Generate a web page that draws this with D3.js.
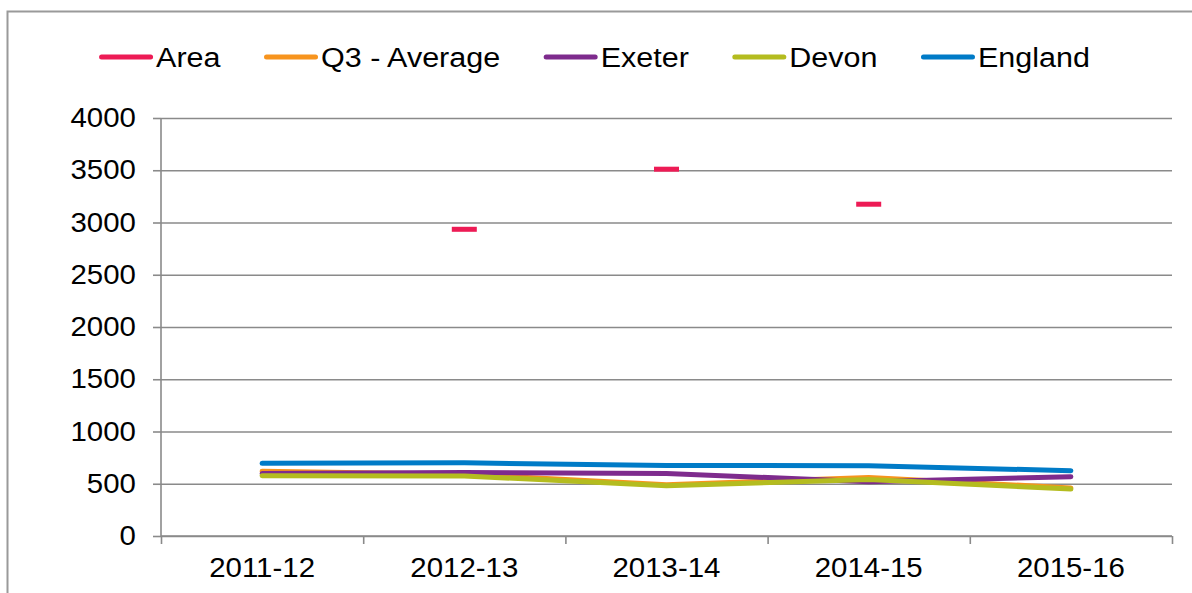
<!DOCTYPE html>
<html>
<head>
<meta charset="utf-8">
<script src="https://cdn.jsdelivr.net/npm/d3@7"></script>
<style>
  html, body { margin: 0; padding: 0; background: #fff; }
  svg { display: block; font-family: "Liberation Sans", Arial, sans-serif; }
</style>
</head>
<body>
<svg id="chart" width="1192" height="593"></svg>
<script>
// ---- data ----
const categories = ["2011-12", "2012-13", "2013-14", "2014-15", "2015-16"];
const seriesNames = ["Area", "Q3 - Average", "Exeter", "Devon", "England"];
const seriesColors = ["#ED1B55", "#F7941E", "#7E2B8D", "#B4BC1F", "#007BC7"];
const areaValues    = [null, 2935, 3510, 3175, null];
const q3Values      = [620, 590, 490, 560, 460];
const exeterValues  = [598, 608, 599, 520, 567];
const devonValues   = [576, 574, 481, 541, 449];
const englandValues = [695, 700, 675, 672, 625];
const yTicks = [0, 500, 1000, 1500, 2000, 2500, 3000, 3500, 4000];

const seriesValues = [areaValues, q3Values, exeterValues, devonValues, englandValues];

// ---- layout ----
const W = 1192, H = 593;
const plot = { left: 161, right: 1172, top: 118, bottom: 536 };
const fontSize = 27;
const stretch = 1.09; // text is horizontally widened in the reference
const axisColor = "#8A8A8A";

const svg = d3.select("#chart");

// outer chart border
svg.append("rect")
  .attr("x", 7.5).attr("y", 11.5)
  .attr("width", W + 10).attr("height", H + 10)
  .attr("fill", "none").attr("stroke", "#9A9A9A").attr("stroke-width", 2);

const x = d3.scaleBand().domain(categories).range([plot.left, plot.right]).padding(0);
const xEdges = d3.scaleLinear().domain([0, categories.length]).range([plot.left, plot.right]);
const y = d3.scaleLinear().domain([0, 4000]).range([plot.bottom, plot.top]);

// gridlines
const grid = svg.append("g")
  .attr("transform", `translate(${plot.left},0)`)
  .call(d3.axisLeft(y).tickValues(yTicks).tickSize(-(plot.right - plot.left)).tickFormat(""));
grid.select(".domain").remove();
grid.selectAll(".tick line").attr("stroke", axisColor).attr("stroke-width", 1.6);

// y axis with labels
const yAxis = svg.append("g")
  .attr("transform", `translate(${plot.left},0)`)
  .call(d3.axisLeft(y).tickValues(yTicks).tickSize(8).tickPadding(15).tickFormat(d3.format("d")));
yAxis.select(".domain").attr("stroke", axisColor).attr("stroke-width", 1.6)
  .attr("d", `M0,${plot.top}V${plot.bottom}`);
yAxis.selectAll(".tick line").attr("stroke", axisColor).attr("stroke-width", 1.6);
yAxis.selectAll(".tick text").attr("fill", "#000").attr("font-size", fontSize)
  .attr("font-family", "Liberation Sans, Arial, sans-serif")
  .attr("transform", `scale(${stretch},1)`);

// x axis: boundary ticks
const xAxis = svg.append("g")
  .attr("transform", `translate(0,${plot.bottom})`)
  .call(d3.axisBottom(xEdges).tickValues(d3.range(categories.length + 1)).tickSize(8).tickFormat(""));
xAxis.select(".domain").attr("stroke", axisColor).attr("stroke-width", 1.6)
  .attr("d", `M${plot.left},0H${plot.right}`);
xAxis.selectAll(".tick line").attr("stroke", axisColor).attr("stroke-width", 1.6);

// x labels
const xLab = svg.append("g")
  .attr("transform", `translate(0,${plot.bottom})`)
  .call(d3.axisBottom(x).tickSize(0).tickPadding(22));
xLab.select(".domain").remove();
xLab.selectAll(".tick text").attr("fill", "#000").attr("font-size", fontSize)
  .attr("font-family", "Liberation Sans, Arial, sans-serif")
  .attr("transform", `scale(${stretch},1)`);

// lines (Area is drawn as dash markers)
const line = d3.line()
  .defined(d => d.v != null)
  .x(d => x(d.c) + x.bandwidth() / 2)
  .y(d => y(d.v));

seriesNames.forEach((name, i) => {
  const pts = categories.map((c, j) => ({ c, v: seriesValues[i][j] }));
  if (i === 0) {
    svg.append("g").selectAll("rect")
      .data(pts.filter(d => d.v != null))
      .join("rect")
      .attr("x", d => x(d.c) + x.bandwidth() / 2 - 12.5)
      .attr("y", d => y(d.v) - 2.5)
      .attr("width", 25).attr("height", 5)
      .attr("fill", seriesColors[i]);
  } else {
    svg.append("path")
      .datum(pts)
      .attr("d", line)
      .attr("fill", "none")
      .attr("stroke", seriesColors[i])
      .attr("stroke-width", 5)
      .attr("stroke-linecap", "round")
      .attr("stroke-linejoin", "round");
  }
});

// legend
const legend = svg.append("g").attr("transform", "translate(0,57)");
const swatchW = 54, textGap = 3, itemGap = 43.5;
const items = legend.selectAll("g.item").data(seriesNames).join("g").attr("class", "item");
items.append("line")
  .attr("x1", 2.5).attr("x2", swatchW - 2.5).attr("y1", 0).attr("y2", 0)
  .attr("stroke", (d, i) => seriesColors[i]).attr("stroke-width", 5)
  .attr("stroke-linecap", "round");
items.append("g")
  .attr("transform", `translate(${swatchW + textGap},0) scale(${stretch},1)`)
  .append("text")
  .attr("x", 0).attr("y", 0).attr("dy", "0.35em")
  .attr("font-size", fontSize + 1).attr("fill", "#000")
  .text(d => d);
let widths = [];
items.each(function() {
  widths.push(swatchW + textGap + stretch * d3.select(this).select("text").node().getComputedTextLength());
});
const total = d3.sum(widths) + itemGap * (widths.length - 1);
let cx = 594.5 - total / 2;
items.each(function(d, i) {
  d3.select(this).attr("transform", `translate(${cx},0)`);
  cx += widths[i] + itemGap;
});
</script>
</body>
</html>
